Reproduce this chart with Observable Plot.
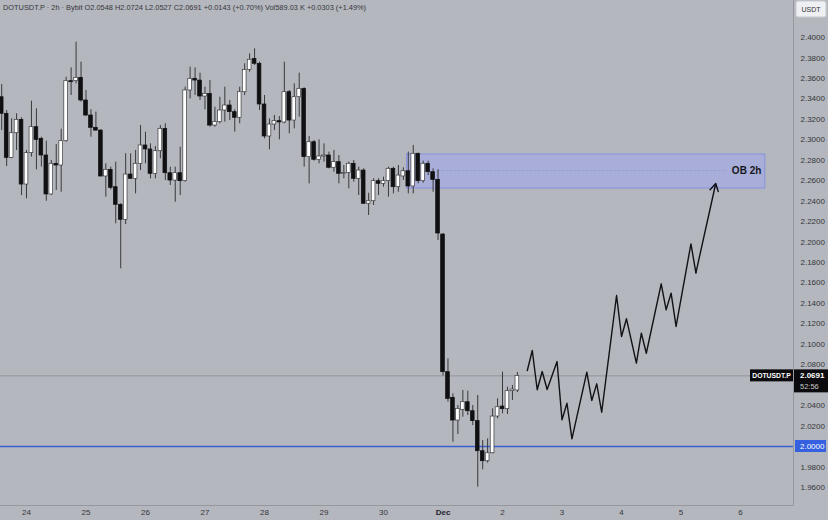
<!DOCTYPE html>
<html><head><meta charset="utf-8">
<script src="https://cdn.jsdelivr.net/npm/d3@7"></script>
<script src="https://cdn.jsdelivr.net/npm/@observablehq/plot@0.6"></script>
<style>
html,body{margin:0;padding:0;background:#b4b7bd;}
#chart{position:relative;width:828px;height:520px;overflow:hidden;}
</style></head><body><div id="chart"></div>
<script>
// ---- header / labels ----
const headerText = "DOTUSDT.P · 2h · Bybit O2.0548 H2.0724 L2.0527 C2.0691 +0.0143 (+0.70%) Vol589.03 K +0.0303 (+1.49%)";
const symbolLabel = "DOTUSDT.P";
const currency = "USDT";
const countdown = "52:56";

// ---- 2h candles, first open at firstCandle, one every 2 hours ----
const firstCandle = "2024-11-23T14:00:00Z";
const opens = [2.3416,2.3254,2.2823,2.3064,2.3195,2.2562,2.2869,2.3123,2.3009,2.2846,2.2465,2.2765,2.2748,2.2986,2.3573,2.3573,2.3606,2.3384,2.3237,2.3117,2.3090,2.2641,2.2706,2.2536,2.2364,2.2217,2.2660,2.2618,2.2765,2.2944,2.2905,2.2667,2.2888,2.3107,2.2673,2.2601,2.2673,2.2595,2.3482,2.3596,2.3579,2.3423,2.3449,2.3139,2.3172,2.3286,2.3335,2.3270,2.3215,2.3465,2.3684,2.3791,2.3743,2.3345,2.3032,2.3149,2.3182,2.3169,2.3465,2.3188,2.3416,2.3498,2.2830,2.2976,2.2804,2.2836,2.2846,2.2726,2.2781,2.2667,2.2676,2.2765,2.2618,2.2699,2.2374,2.2399,2.2595,2.2569,2.2595,2.2716,2.2536,2.2641,2.2692,2.2543,2.2863,2.2595,2.2765,2.2683,2.2608,2.2073,2.0727,2.0476,2.0254,2.0359,2.0433,2.0345,2.0248,1.9954,1.9856,1.9934,2.0293,2.0391,2.0365,2.0541,2.0548];
const highs = [2.3540,2.3286,2.3205,2.3254,2.3215,2.2895,2.3377,2.3302,2.3025,2.2986,2.2797,2.2954,2.3103,2.3612,2.3703,2.3954,2.3759,2.3482,2.3293,2.3270,2.3097,2.2765,2.2732,2.2781,2.2374,2.2863,2.2863,2.2895,2.3139,2.3074,2.2960,2.2934,2.3139,2.3156,2.2732,2.2732,2.2927,2.3514,2.3710,2.3703,2.3651,2.3514,2.3579,2.3318,2.3416,2.3514,2.3384,2.3293,2.3514,2.3743,2.3840,2.3889,2.3759,2.3433,2.3205,2.3237,2.3227,2.3759,2.3482,2.3547,2.3651,2.3508,2.3032,2.2993,2.2999,2.2960,2.2879,2.2895,2.2846,2.2748,2.2781,2.2797,2.2732,2.2716,2.2477,2.2618,2.2618,2.2634,2.2732,2.2732,2.2748,2.2726,2.2879,2.2944,2.2869,2.2791,2.2791,2.2716,2.2706,2.2083,2.0857,2.0515,2.0401,2.0548,2.0541,2.0401,2.0499,2.0059,2.0075,2.0368,2.0466,2.0727,2.0580,2.0597,2.0724];
const lows = [2.3090,2.2738,2.2814,2.2895,2.2455,2.2422,2.2830,2.2706,2.2732,2.2399,2.2455,2.2504,2.2487,2.2976,2.3433,2.3547,2.3368,2.3227,2.3025,2.3084,2.2634,2.2439,2.2510,2.2178,2.1738,2.2171,2.2618,2.2471,2.2699,2.2765,2.2618,2.2618,2.2814,2.2601,2.2553,2.2389,2.2455,2.2585,2.3400,2.3433,2.3384,2.3293,2.3123,2.3123,2.3156,2.3172,2.3188,2.3074,2.3156,2.3433,2.3661,2.3726,2.3286,2.3009,2.2902,2.3090,2.2999,2.3156,2.3058,2.3107,2.3221,2.2732,2.2569,2.2791,2.2765,2.2781,2.2716,2.2683,2.2569,2.2618,2.2520,2.2585,2.2455,2.2367,2.2259,2.2357,2.2455,2.2536,2.2439,2.2471,2.2487,2.2601,2.2471,2.2471,2.2569,2.2575,2.2650,2.2487,2.2015,2.0690,2.0433,2.0042,2.0117,2.0287,2.0303,2.0205,1.9602,1.9772,1.9837,1.9929,2.0271,2.0320,2.0313,2.0450,2.0527];
const closes = [2.3254,2.2823,2.3064,2.3195,2.2562,2.2869,2.3123,2.2999,2.2846,2.2465,2.2765,2.2748,2.2986,2.3573,2.3563,2.3606,2.3384,2.3237,2.3117,2.3090,2.2641,2.2706,2.2530,2.2364,2.2217,2.2660,2.2618,2.2765,2.2944,2.2905,2.2667,2.2888,2.3107,2.2673,2.2601,2.2673,2.2595,2.3482,2.3596,2.3579,2.3423,2.3449,2.3139,2.3172,2.3286,2.3335,2.3270,2.3215,2.3465,2.3684,2.3782,2.3743,2.3345,2.3032,2.3149,2.3182,2.3169,2.3465,2.3188,2.3416,2.3498,2.2830,2.2976,2.2804,2.2836,2.2846,2.2726,2.2781,2.2667,2.2676,2.2765,2.2618,2.2699,2.2374,2.2399,2.2595,2.2569,2.2595,2.2716,2.2536,2.2650,2.2692,2.2543,2.2863,2.2595,2.2765,2.2683,2.2608,2.2083,2.0727,2.0466,2.0254,2.0368,2.0433,2.0345,2.0248,1.9954,1.9856,1.9934,2.0293,2.0384,2.0365,2.0541,2.0557,2.0691];

// ---- drawn projection path ----
const projTimes = ["2024-12-02T10:00Z","2024-12-02T12:00Z","2024-12-02T14:00Z","2024-12-02T16:00Z","2024-12-02T18:00Z","2024-12-02T22:00Z","2024-12-03T00:00Z","2024-12-03T02:00Z","2024-12-03T04:00Z","2024-12-03T10:00Z","2024-12-03T12:00Z","2024-12-03T14:00Z","2024-12-03T16:00Z","2024-12-03T22:00Z","2024-12-04T00:00Z","2024-12-04T02:00Z","2024-12-04T06:00Z","2024-12-04T08:00Z","2024-12-04T10:00Z","2024-12-04T16:00Z","2024-12-04T18:00Z","2024-12-04T20:00Z","2024-12-04T22:00Z","2024-12-05T04:00Z","2024-12-05T06:00Z","2024-12-05T14:00Z"];
const projPrices = [2.0743,2.0939,2.0555,2.0733,2.0557,2.0831,2.0261,2.0423,2.0075,2.0727,2.0450,2.0613,2.0335,2.1477,2.1076,2.1249,2.0815,2.1108,2.0912,2.1591,2.1337,2.1500,2.1174,2.1982,2.1699,2.2572];

// ---- order block zone ----
const obLabel = "OB 2h";
const obStart = "2024-11-30T09:30Z";
const obMidStart = "2024-11-30T22:00Z";
const obMidEnd = "2024-12-05T18:30Z";
const obEnd = "2024-12-06T10:00Z";
const obLow = 2.2523;
const obHigh = 2.2856;
const obMid = 2.2699;

// ---- levels / axes ----
const lastPrice = 2.0691;
const supportLevel = 2.0000;
const viewStart = "2024-11-23T13:31Z";
const viewEnd = "2024-12-06T21:22Z";
const yMin = 1.9423, yMax = 2.4362;
const yTicks = [1.96,1.98,2.02,2.04,2.08,2.10,2.12,2.14,2.16,2.18,2.20,2.22,2.24,2.26,2.28,2.30,2.32,2.34,2.36,2.38,2.40];
const dayTicks = ["2024-11-24","2024-11-25","2024-11-26","2024-11-27","2024-11-28","2024-11-29","2024-11-30","2024-12-02","2024-12-03","2024-12-04","2024-12-05","2024-12-06"];
const monthTicks = ["2024-12-01"];

// ---- build tables ----
const H2 = 2 * 3600 * 1000, HALF = 45 * 60 * 1000;
const t0 = new Date(firstCandle).getTime();
const candles = opens.map((o, i) => ({
  date: new Date(t0 + i * H2), open: o, high: highs[i], low: lows[i], close: closes[i]
}));
const proj = projTimes.map((t, i) => ({date: new Date(t), price: projPrices[i]}));
const lastSeg = [{x1: proj[proj.length - 2].date, y1: proj[proj.length - 2].price, x2: proj[proj.length - 1].date, y2: proj[proj.length - 1].price}];
const ob = [{x1: new Date(obStart), x2: new Date(obEnd), y1: obLow, y2: obHigh}];
const fmt = d3.format(".4f");

const plot = Plot.plot({
  width: 828, height: 520,
  marginLeft: 0, marginRight: 35, marginTop: 0, marginBottom: 15,
  style: {background: "#b4b7bd", fontFamily: "'Liberation Sans', Arial, sans-serif", color: "#2e3034", fontSize: "8px", overflow: "visible"},
  x: {type: "utc", domain: [new Date(viewStart), new Date(viewEnd)]},
  y: {domain: [yMin, yMax]},
  marks: [
    Plot.ruleY([lastPrice], {stroke: "#8a8d93", strokeWidth: 0.8}),
    Plot.ruleY([supportLevel], {stroke: "#3a5fd2", strokeWidth: 1.4}),
    Plot.rect(ob, {x1: "x1", x2: "x2", y1: "y1", y2: "y2", fill: "#a0a8f0", fillOpacity: 0.55, stroke: "#8791dc", strokeWidth: 1}),
    Plot.ruleY([obMid], {y: d => d, x1: () => new Date(obMidStart), x2: () => new Date(obMidEnd), stroke: "#8a93cf", strokeDasharray: "2,2", strokeWidth: 0.8}),
    Plot.text([obLabel], {x: () => new Date(obEnd), y: () => obMid, text: d => d, textAnchor: "end", dx: -4, fontWeight: "bold", fontSize: 10, fill: "#14161c"}),
    Plot.ruleX(candles, {x: "date", y1: "low", y2: "high", stroke: "#3a3a3c", strokeWidth: 1}),
    Plot.rect(candles, {
      x1: d => new Date(d.date.getTime() - HALF), x2: d => new Date(d.date.getTime() + HALF),
      y1: "open", y2: "close",
      fill: d => d.close >= d.open ? "#ffffff" : "#101012",
      stroke: d => d.close >= d.open ? "#3a3a3c" : "#101012", strokeWidth: 0.7
    }),
    Plot.line(proj.slice(0, -1), {x: "date", y: "price", stroke: "#111216", strokeWidth: 1.4}),
    Plot.arrow(lastSeg, {x1: "x1", y1: "y1", x2: "x2", y2: "y2", stroke: "#111216", strokeWidth: 1.4, headLength: 9}),
    Plot.frame({anchor: "bottom", stroke: "#95989e"}),
    Plot.frame({anchor: "right", stroke: "#95989e"}),
    Plot.axisY(yTicks, {anchor: "right", tickFormat: fmt, tickSize: 0, tickPadding: 7, fontSize: 8, fill: "#34363b"}),
    Plot.axisX(dayTicks.map(d => new Date(d)), {tickFormat: d => String(d.getUTCDate()), tickSize: 0, tickPadding: 4, fontSize: 8, fill: "#34363b"}),
    Plot.axisX(monthTicks.map(d => new Date(d)), {tickFormat: () => "Dec", tickSize: 0, tickPadding: 4, fontSize: 8, fontWeight: "bold", fill: "#22242a"})
  ]
});

document.getElementById("chart").appendChild(plot);

// ---- overlays positioned through the plot's scales ----
const svg = d3.select(plot);
const ys = plot.scale("y");
const g = svg.append("g").attr("font-family", "'Liberation Sans', Arial, sans-serif").attr("text-anchor", "start");

// header
g.append("text").attr("x", 3).attr("y", 10).attr("font-size", 7.4).attr("fill", "#34363c").attr("text-anchor", "start").text(headerText);

// USDT box
g.append("rect").attr("x", 796).attr("y", 1).attr("width", 30).attr("height", 16).attr("rx", 2).attr("fill", "#eef0f4").attr("stroke", "#c9ccd2");
g.append("text").attr("x", 811).attr("y", 12).attr("text-anchor", "middle").attr("font-size", 7).attr("fill", "#333").text(currency);

// last price labels
const yp = ys.apply(lastPrice);
g.append("rect").attr("x", 750).attr("y", yp - 6).attr("width", 43).attr("height", 12).attr("fill", "#0b0b0d");
g.append("text").attr("x", 771.5).attr("y", yp + 3).attr("text-anchor", "middle").attr("font-size", 6.8).attr("font-weight", "bold").attr("fill", "#fff").text(symbolLabel);
g.append("rect").attr("x", 794).attr("y", yp - 6).attr("width", 34).attr("height", 23).attr("fill", "#0b0b0d");
g.append("text").attr("x", 800).attr("y", yp + 3).attr("text-anchor", "start").attr("font-size", 8).attr("font-weight", "bold").attr("fill", "#fff").text(fmt(lastPrice));
g.append("text").attr("x", 800).attr("y", yp + 13.5).attr("text-anchor", "start").attr("font-size", 7.5).attr("fill", "#c8c8c8").text(countdown);

// support label
const ysup = ys.apply(supportLevel);
g.append("rect").attr("x", 795).attr("y", ysup - 6).attr("width", 31).attr("height", 12).attr("fill", "#3560e0");
g.append("text").attr("x", 800).attr("y", ysup + 3).attr("text-anchor", "start").attr("font-size", 8).attr("fill", "#fff").text(fmt(supportLevel));
</script>
</body></html>
